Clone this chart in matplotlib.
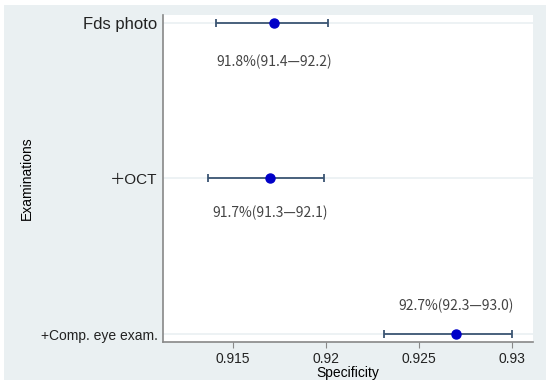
import matplotlib.pyplot as plt
from matplotlib.patches import Rectangle

# Data
exams = ["Fds photo", "\uff0bOCT", "+Comp. eye exam."]
ypos = [3, 2, 1]
spec = [0.91720, 0.91699, 0.92699]
ci_low = [0.91409, 0.91366, 0.92312]
ci_high = [0.92011, 0.91989, 0.93000]
labels = ["91.8%(91.4\u201492.2)", "91.7%(91.3\u201492.1)", "92.7%(92.3\u201493.0)"]
label_offset = [-0.25, -0.22, 0.18]
xticks = [0.915, 0.92, 0.925, 0.93]
xtick_labels = ["0.915", "0.92", "0.925", "0.93"]

BG = "#eaf0f2"
LINE = "#3b5573"

fig = plt.figure(figsize=(5.5, 3.85), dpi=100, facecolor="white")
fig.patches.append(Rectangle((4 / 550, 5 / 385), 542 / 550, 375 / 385,
                             transform=fig.transFigure, facecolor=BG,
                             edgecolor="none", zorder=-10))
ax = fig.add_axes([163 / 550, 1 - 342 / 385, 370 / 550, 327 / 385])
ax.set_facecolor("white")

for y in ypos:
    ax.axhline(y, color=BG, lw=1.2, zorder=1)

ax.errorbar(spec, ypos, xerr=[[s - l for s, l in zip(spec, ci_low)],
                              [h - s for s, h in zip(spec, ci_high)]],
            fmt="none", ecolor=LINE, elinewidth=1.3, capsize=3, capthick=1.3,
            zorder=2)
ax.plot(spec, ypos, "o", color="#0000c8", markersize=6.5, zorder=3)

for x, y, t, off in zip(spec, ypos, labels, label_offset):
    ax.text(x, y + off, t, ha="center", va="center", fontsize=10,
            color="#444444", family=["Noto Sans CJK JP", "DejaVu Sans"])

ax.set_xlim(0.91124, 0.93113)
ax.set_ylim(1 - 8 / 156, 3 + 8 / 156)
ax.set_xticks(xticks)
ax.set_xticklabels(xtick_labels, fontsize=10, family="Liberation Sans", color="#222222")
ax.set_yticks(ypos)
ax.set_yticklabels(exams, fontsize=10, color="#222222")
for lab in ax.get_yticklabels():
    lab.set_family(["Liberation Sans", "Noto Sans CJK JP"])
ax.get_yticklabels()[0].set_fontsize(12)
ax.get_yticklabels()[1].set_fontsize(11)
ax.tick_params(axis="y", length=0, pad=4)
ax.tick_params(axis="x", length=4, color="#888888", pad=3)

for side in ["top", "right"]:
    ax.spines[side].set_visible(False)
for side in ["left", "bottom"]:
    ax.spines[side].set_color("#888888")
    ax.spines[side].set_linewidth(1.2)

ax.set_xlabel("Specificity", fontsize=10, family="Liberation Sans", labelpad=0)
ax.set_ylabel("Examinations", fontsize=10, family="Liberation Sans", labelpad=0)
ax.yaxis.set_label_coords(-(163 - 34) / 370, 0.5)

fig.savefig("out.png", dpi=100, facecolor=fig.get_facecolor())
